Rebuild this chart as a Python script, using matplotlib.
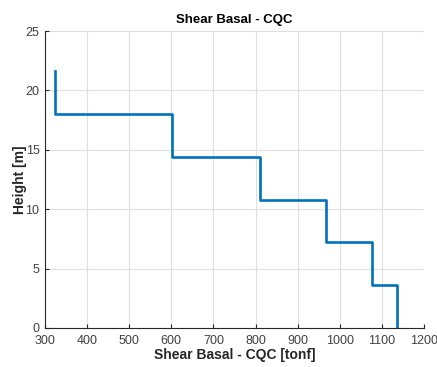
import numpy as np
import matplotlib
matplotlib.use('Agg')
import matplotlib.pyplot as plt

plt.rcParams['font.family'] = ['Liberation Sans', 'DejaVu Sans']

# storey heights [m] and storey shear [tonf]
levels = [0, 3.6, 7.2, 10.8, 14.4, 18.0, 21.6]
shear = [1135, 1077, 967, 811, 601, 323]

# build the stepped profile
xs = []
ys = []
for i, v in enumerate(shear):
    xs += [v, v]
    ys += [levels[i], levels[i + 1]]

fig = plt.figure(figsize=(4.37, 3.67), dpi=100)
ax = fig.add_axes([45 / 437, 1 - 328 / 367, 379 / 437, 297 / 367])
ax.plot(xs, ys, color='#0072BD', lw=1.9)

ax.set_xlim(300, 1200)
ax.set_ylim(0, 25)
ax.set_xticks(np.arange(300, 1201, 100))
ax.set_yticks(np.arange(0, 26, 5))
ax.grid(True, color='#e0e0e0', lw=0.8)
ax.set_axisbelow(True)
for s in ['top', 'right']:
    ax.spines[s].set_visible(False)
for s in ['left', 'bottom']:
    ax.spines[s].set_color('#262626')
    ax.spines[s].set_linewidth(0.8)
ax.tick_params(direction='in', length=3, colors='#262626', labelsize=9, labelcolor='#404040')
ax.tick_params(axis='x', pad=5)
ax.tick_params(axis='y', pad=4)

ax.set_title('Shear Basal - CQC', fontsize=9.5, fontweight='bold', color='#000000', pad=6)
ax.set_xlabel('Shear Basal - CQC [tonf]', fontsize=10, fontweight='bold', color='#262626', labelpad=1)
ax.set_ylabel('Height [m]', fontsize=10, fontweight='bold', color='#262626', labelpad=-1)

fig.savefig('out.png', dpi=100)
